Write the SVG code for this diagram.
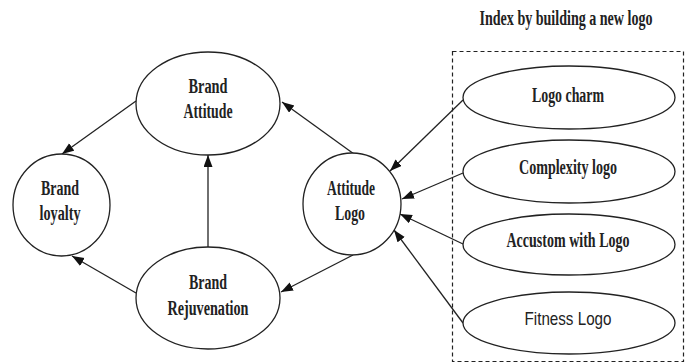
<svg xmlns="http://www.w3.org/2000/svg" width="689" height="364" viewBox="0 0 689 364">
<style>
.node{fill:#fff;stroke:#222;stroke-width:1.3}
.lbl{font-family:"Liberation Serif","Times New Roman",serif;font-weight:bold;font-size:20px;fill:#222;text-anchor:middle}
.sans{font-family:"Liberation Sans",Arial,sans-serif;font-weight:normal;font-size:19px;fill:#222;text-anchor:middle}
.edge{stroke:#222;stroke-width:1.3;fill:none;marker-end:url(#arr)}
</style>
<defs>
<marker id="arr" markerUnits="userSpaceOnUse" markerWidth="13" markerHeight="10" refX="12" refY="4.5" orient="auto">
<path d="M0,0 L12,4.5 L0,9 z" fill="#111"/>
</marker>
</defs>
<rect x="0" y="0" width="689" height="364" fill="#fff"/>
<text class="lbl" x="566" y="25" font-size="17" textLength="173" lengthAdjust="spacingAndGlyphs">Index by building a new logo</text>
<rect x="452.5" y="51.5" width="231" height="310" fill="none" stroke="#222" stroke-width="1.2" stroke-dasharray="4,3"/>
<g id="connectors">
<line class="edge" x1="136" y1="101" x2="62" y2="154"/>
<line class="edge" x1="354" y1="154" x2="282" y2="102"/>
<line class="edge" x1="208" y1="247" x2="208" y2="155"/>
<line class="edge" x1="136" y1="293" x2="72" y2="256"/>
<line class="edge" x1="353" y1="255" x2="281" y2="292"/>
<line class="edge" x1="463" y1="100" x2="390" y2="171"/>
<line class="edge" x1="463" y1="173" x2="402" y2="199"/>
<line class="edge" x1="463" y1="244" x2="400" y2="214"/>
<line class="edge" x1="463" y1="323" x2="394" y2="230"/>
</g>
<g id="brand-attitude">
<ellipse class="node" cx="208" cy="103.5" rx="72" ry="51.5"/>
<text class="lbl" x="208" y="93" textLength="39" lengthAdjust="spacingAndGlyphs">Brand</text>
<text class="lbl" x="208" y="118" textLength="49" lengthAdjust="spacingAndGlyphs">Attitude</text>
</g>
<g id="brand-loyalty">
<ellipse class="node" cx="61.5" cy="205" rx="48.5" ry="51"/>
<text class="lbl" x="60" y="195" textLength="38" lengthAdjust="spacingAndGlyphs">Brand</text>
<text class="lbl" x="60" y="220" textLength="41" lengthAdjust="spacingAndGlyphs">loyalty</text>
</g>
<g id="brand-rejuvenation">
<ellipse class="node" cx="208" cy="298" rx="72" ry="51"/>
<text class="lbl" x="208" y="289" textLength="38" lengthAdjust="spacingAndGlyphs">Brand</text>
<text class="lbl" x="208" y="315" textLength="81" lengthAdjust="spacingAndGlyphs">Rejuvenation</text>
</g>
<g id="attitude-logo">
<ellipse class="node" cx="352" cy="204" rx="49" ry="51"/>
<text class="lbl" x="351" y="195" textLength="48" lengthAdjust="spacingAndGlyphs">Attitude</text>
<text class="lbl" x="350" y="220" textLength="30" lengthAdjust="spacingAndGlyphs">Logo</text>
</g>
<g id="logo-charm">
<ellipse class="node" cx="569" cy="97.5" rx="106" ry="31.5"/>
<text class="lbl" x="568" y="102" textLength="72" lengthAdjust="spacingAndGlyphs">Logo charm</text>
</g>
<g id="complexity-logo">
<ellipse class="node" cx="569" cy="171.5" rx="106" ry="31.5"/>
<text class="lbl" x="568" y="174" textLength="98" lengthAdjust="spacingAndGlyphs">Complexity logo</text>
</g>
<g id="accustom-with-logo">
<ellipse class="node" cx="569" cy="244.5" rx="106" ry="30.5"/>
<text class="lbl" x="568" y="247" textLength="123" lengthAdjust="spacingAndGlyphs">Accustom with Logo</text>
</g>
<g id="fitness-logo">
<ellipse class="node" cx="569" cy="323" rx="106" ry="31"/>
<text class="sans" x="568" y="325" textLength="87" lengthAdjust="spacingAndGlyphs">Fitness Logo</text>
</g>
</svg>
